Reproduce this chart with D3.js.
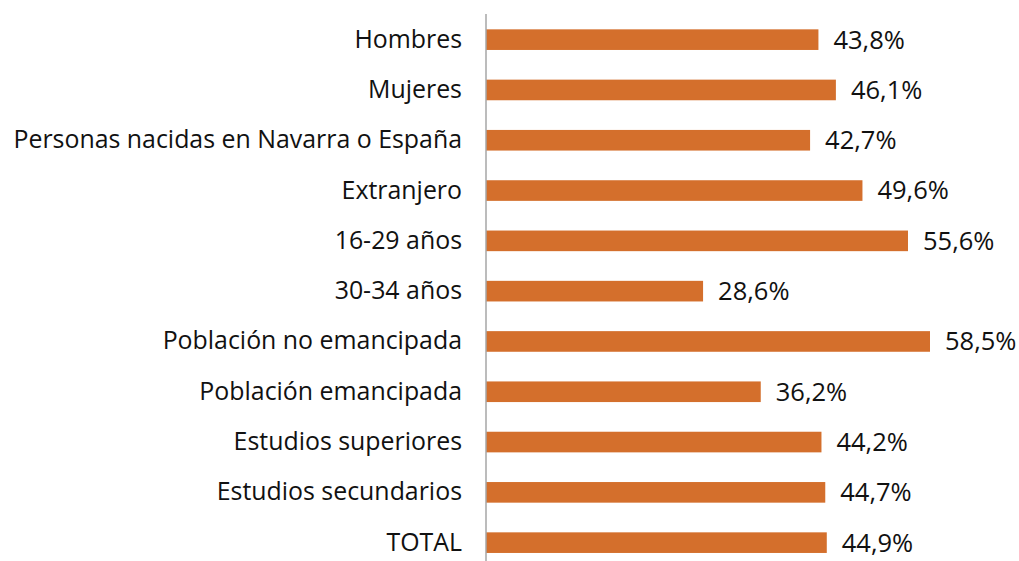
<!DOCTYPE html>
<html>
<head>
<meta charset="utf-8">
<script src="https://cdn.jsdelivr.net/npm/d3@7"></script>
<style>
  html, body { margin: 0; padding: 0; background: #fff; }
  svg { display: block; }
</style>
</head>
<body>
<svg id="chart" width="1019" height="561"></svg>
<script>
const categories = [
  "Hombres",
  "Mujeres",
  "Personas nacidas en Navarra o España",
  "Extranjero",
  "16-29 años",
  "30-34 años",
  "Población no emancipada",
  "Población emancipada",
  "Estudios superiores",
  "Estudios secundarios",
  "TOTAL"
];
const values = [43.8, 46.1, 42.7, 49.6, 55.6, 28.6, 58.5, 36.2, 44.2, 44.7, 44.9];
const valueLabels = ["43,8%", "46,1%", "42,7%", "49,6%", "55,6%", "28,6%", "58,5%", "36,2%", "44,2%", "44,7%", "44,9%"];

const data = categories.map((c, i) => ({ cat: c, val: values[i], label: valueLabels[i] }));

const svg = d3.select("#chart");
const axisX = 486;
const fontFamily = "'Open Sans', 'Noto Sans', sans-serif";
const catFontSize = 24.9;
const valFontSize = 25.5;

const x = d3.scaleLinear().domain([0, 58.5]).range([axisX, 930]);
const y = d3.scaleBand().domain(categories).range([14.5, 567.8]).paddingInner(0.59).paddingOuter(0.295);

svg.selectAll("rect.bar")
  .data(data)
  .enter().append("rect")
  .attr("class", "bar")
  .attr("x", x(0))
  .attr("y", d => y(d.cat))
  .attr("width", d => x(d.val) - x(0))
  .attr("height", y.bandwidth())
  .attr("fill", "#D46F2C");

svg.selectAll("text.val")
  .data(data)
  .enter().append("text")
  .attr("class", "val")
  .attr("x", d => x(d.val) + 15)
  .attr("y", d => y(d.cat) + y.bandwidth() / 2)
  .attr("dy", "0.35em")
  .attr("font-family", fontFamily)
  .attr("font-size", valFontSize)
  .attr("fill", "#111")
  .text(d => d.label);

const yAxis = d3.axisLeft(y).tickSize(0).tickPadding(24);
const g = svg.append("g").attr("transform", `translate(${axisX},0)`).call(yAxis);
g.select(".domain").attr("stroke", "#A6A6A6").attr("stroke-width", 1.5).attr("d", "M0,14V561");
g.selectAll(".tick text")
  .attr("font-family", fontFamily)
  .attr("font-size", catFontSize)
  .attr("fill", "#111");
</script>
</body>
</html>
